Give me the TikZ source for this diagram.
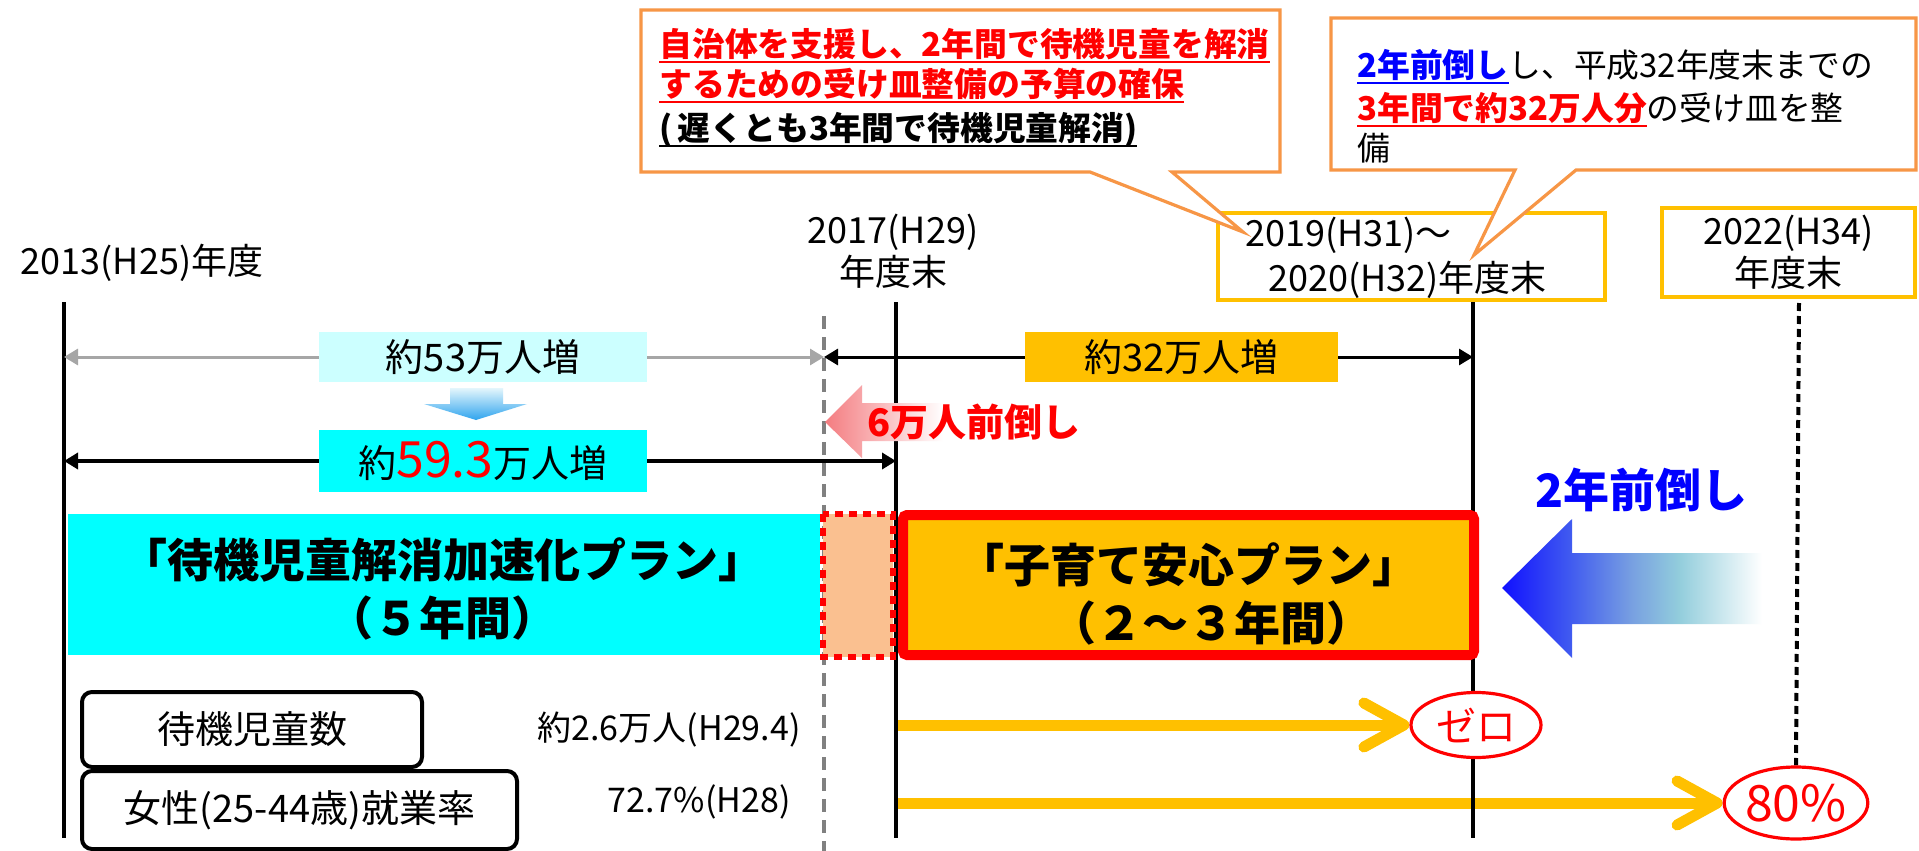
\documentclass[tikz,border=0pt]{standalone}
\usepackage{fontspec}
\setmainfont{Noto Sans CJK JP}
\newcommand{\uln}[1]{\setbox0\hbox{#1}\rlap{\rule[-3.5pt]{\wd0}{1.2pt}}\box0}
\usepackage{tikz}
\usetikzlibrary{arrows.meta,shapes.geometric,backgrounds}

\definecolor{ygold}{HTML}{FFC000}
\definecolor{corange}{HTML}{F79646}
\definecolor{lcyan}{HTML}{CCFFFF}
\definecolor{aqua}{HTML}{00FFFF}
\definecolor{peach}{HTML}{FAC090}
\definecolor{pinktip}{HTML}{F47C80}
\definecolor{dtop}{HTML}{E4F6FC}
\definecolor{dbot}{HTML}{2FA4EE}
\definecolor{arrblue}{HTML}{1010FF}
\definecolor{arrblueb}{HTML}{405AF0}
\definecolor{arrbluec}{HTML}{78A0E1}
\definecolor{arrteal}{HTML}{92CDDC}
\pgfdeclarehorizontalshading{bluefade}{100bp}{color(0bp)=(arrblue); color(25bp)=(arrblue); color(38bp)=(arrblueb); color(50bp)=(arrbluec); color(59bp)=(arrteal); color(75bp)=(white); color(100bp)=(white)}

\tikzset{
    tline/.style={line width=2pt},
    yearlbl/.style={font=\fontsize{18}{21}\selectfont, align=center, inner sep=0pt},
    ybox/.style={draw=ygold, line width=2pt},
    callout/.style={draw=corange, line width=1.6pt, fill=white, line join=miter},
    calltext/.style={anchor=base west, inner sep=0pt, font=\fontsize{16.4}{20}\selectfont},
    incbox/.style={minimum width=164pt, minimum height=25pt, inner sep=0pt, font=\fontsize{19}{22}\selectfont},
    incarr/.style={line width=1.5pt, {Triangle[length=7pt,width=8pt]}-{Triangle[length=7pt,width=8pt]}},
    plantext/.style={font=\fontsize{23}{29}\selectfont\bfseries, align=center, inner sep=0pt},
    databox/.style={draw, line width=2pt, rounded corners=5pt, inner sep=0pt, font=\fontsize{19}{22}\selectfont},
    datalbl/.style={inner sep=0pt, font=\fontsize{17}{20}\selectfont},
    goarr/.style={draw=ygold, line width=5.5pt, -{Straight Barb[length=20pt,width=22pt,round]}},
    endoval/.style={ellipse, draw=red, line width=1.6pt, fill=white, text=red, inner sep=0pt}
}

\begin{document}
\begin{tikzpicture}[x=0.5pt, y=-0.5pt]
    \useasboundingbox (0,0) rectangle (1919,851);
    % Timeline anchors
    \coordinate (l13top) at (64,302);
    \coordinate (l13bot) at (64,838);
    \coordinate (l17top) at (896,302);
    \coordinate (l17bot) at (896,838);
    \coordinate (l20top) at (1473,302);
    \coordinate (l20bot) at (1473,838);
    \coordinate (l22top) at (1799,303);
    \coordinate (dashtop) at (824,316);
    \coordinate (dashbot) at (824,851);
    % Target ovals at the end of the yellow arrows
    \node[endoval, minimum width=65pt, minimum height=32.5pt, font=\fontsize{20}{20}\selectfont] (zero) at (1476,725) {ゼロ};
    \node[endoval, minimum width=66.5pt, minimum height=36pt, font=\fontsize{25}{25}\selectfont] (eighty) at (1796,803) {80\%};
    % Increase labels
    \node[incbox, fill=lcyan] (inc53) at (483,357) {約53万人増};
    \node[incbox, fill=ygold, minimum width=156.5pt] (inc32) at (1181.5,357) {約32万人増};
    \node[incbox, fill=aqua, minimum height=31pt] (inc59) at (483,461) {約{\fontsize{25}{25}\selectfont\textcolor{red}{59.3}}万人増};
    \begin{pgfonlayer}{background}
        \fill[white] (0,0) rectangle (1919,851);
        % Yellow arrows towards the targets
        \draw[goarr] (l17top |- zero.west) -- (zero.west);
        \draw[goarr] (l17top |- eighty.west) -- (eighty.west);
        % Draw the year lines
        \draw[tline] (l13top) -- (l13bot);
        \draw[tline] (l17top) -- (l17bot);
        \draw[tline] (l20top) -- (l20bot);
        \draw[gray, line width=2pt, dash pattern=on 6.5pt off 4pt] (dashtop) -- (dashbot);
        \draw[line width=2pt, dash pattern=on 4pt off 2.5pt] (l22top) -- (eighty.north);
        % Increase arrows
        \draw[incarr, gray!70] (l13top |- inc53) -- (dashtop |- inc53);
        \draw[incarr] (dashtop |- inc32) -- (l20top |- inc32);
        \draw[incarr, line width=2.3pt] (l13top |- inc59) -- (l17top |- inc59);
    \end{pgfonlayer}
    % Down arrow between the two increases
    \shade[top color=dtop, bottom color=dbot] (450,388) -- (503,388) -- (503,404) -- (527,404) -- (476,420) -- (424,404) -- (450,404) -- cycle;
    % Pink arrow (6万人前倒し)
    \shade[left color=pinktip, right color=white] (825,422) -- (862,385) -- (862,403) -- (943,403) -- (943,441) -- (862,441) -- (862,458) -- cycle;
    \node[anchor=west, inner sep=0pt, text=red, font=\fontsize{19}{19}\selectfont\bfseries] (ahead6) at (867,422) {6万人前倒し};
    % Plan bars
    \fill[aqua] (68,514) rectangle (820,655);
    \node[plantext] (accel) at (443,588.5) {「待機児童解消加速化プラン」\\（５年間）};
    \draw[red, line width=3pt, dash pattern=on 4pt off 3pt, fill=peach] (823,514) rectangle (893,657);
    \draw[red, line width=5pt, fill=ygold, rounded corners=2pt] (903,515) rectangle (1474,655);
    \node[plantext] (kosodate) at (1188,594) {「子育て安心プラン」\\\hspace*{1em}（２～３年間）};
    % Blue arrow (2年前倒し)
    \shade[shading=bluefade] (1502,588) -- (1572,519) -- (1572,553) -- (1762,553) -- (1762,624) -- (1572,624) -- (1572,658) -- cycle;
    \node[inner sep=0pt, text=blue, font=\fontsize{23}{23}\selectfont\bfseries] (ahead2) at (1641,490) {2年前倒し};
    % Year labels
    \node[yearlbl] (y13) at (142,263) {2013(H25)年度};
    \node[yearlbl] (y17) at (893,251) {2017(H29)\\年度末};
    \draw[ybox] (1218,213) rectangle (1605,300);
    \node[yearlbl, anchor=west] (y19) at (1245,235) {2019(H31)～};
    \node[yearlbl, anchor=west] (y20) at (1268,280) {2020(H32)年度末};
    \node[yearlbl, ybox, minimum width=126.5pt, minimum height=44.5pt] (y22) at (1788.5,252.5) {2022(H34)\\年度末};
    % Callouts
    \draw[callout] (641,10) -- (1280,10) -- (1280,172) -- (1172,172) -- (1243,232) -- (1090,172) -- (641,172) -- cycle;
    \node[calltext] (c1a) at (659,56) {\textcolor{red}{\bfseries\uln{自治体を支援し、2年間で待機児童を解消}}};
    \node[calltext] (c1b) at (659,96) {\textcolor{red}{\bfseries\uln{するための受け皿整備の予算の確保}}};
    \node[calltext] (c1c) at (659,140) {{\bfseries\uln{(\,遅くとも3年間で待機児童解消)}}};
    \draw[callout] (1331,18) -- (1916,18) -- (1916,170) -- (1576,170) -- (1474,255) -- (1515,170) -- (1331,170) -- cycle;
    \node[calltext] (c2a) at (1357,77) {\textcolor{blue}{\bfseries\uln{2年前倒し}}し、平成32年度末までの};
    \node[calltext] (c2b) at (1357,120) {\textcolor{red}{\bfseries\uln{3年間で約32万人分}}の受け皿を整};
    \node[calltext] (c2c) at (1357,160) {備};
    % Indicator boxes and current values
    \node[databox, minimum width=170pt, minimum height=37.5pt] (waitbox) at (252,729.5) {待機児童数};
    \node[databox, minimum width=217.5pt, minimum height=39pt, anchor=north west] (workbox) at (waitbox.south west) {女性(25-44歳)就業率};
    \node[datalbl, anchor=east] (waitval) at (801,730) {約2.6万人(H29.4)};
    \node[datalbl, anchor=east] (workval) at (791,802) {72.7\%(H28)};
\end{tikzpicture}
\end{document}
